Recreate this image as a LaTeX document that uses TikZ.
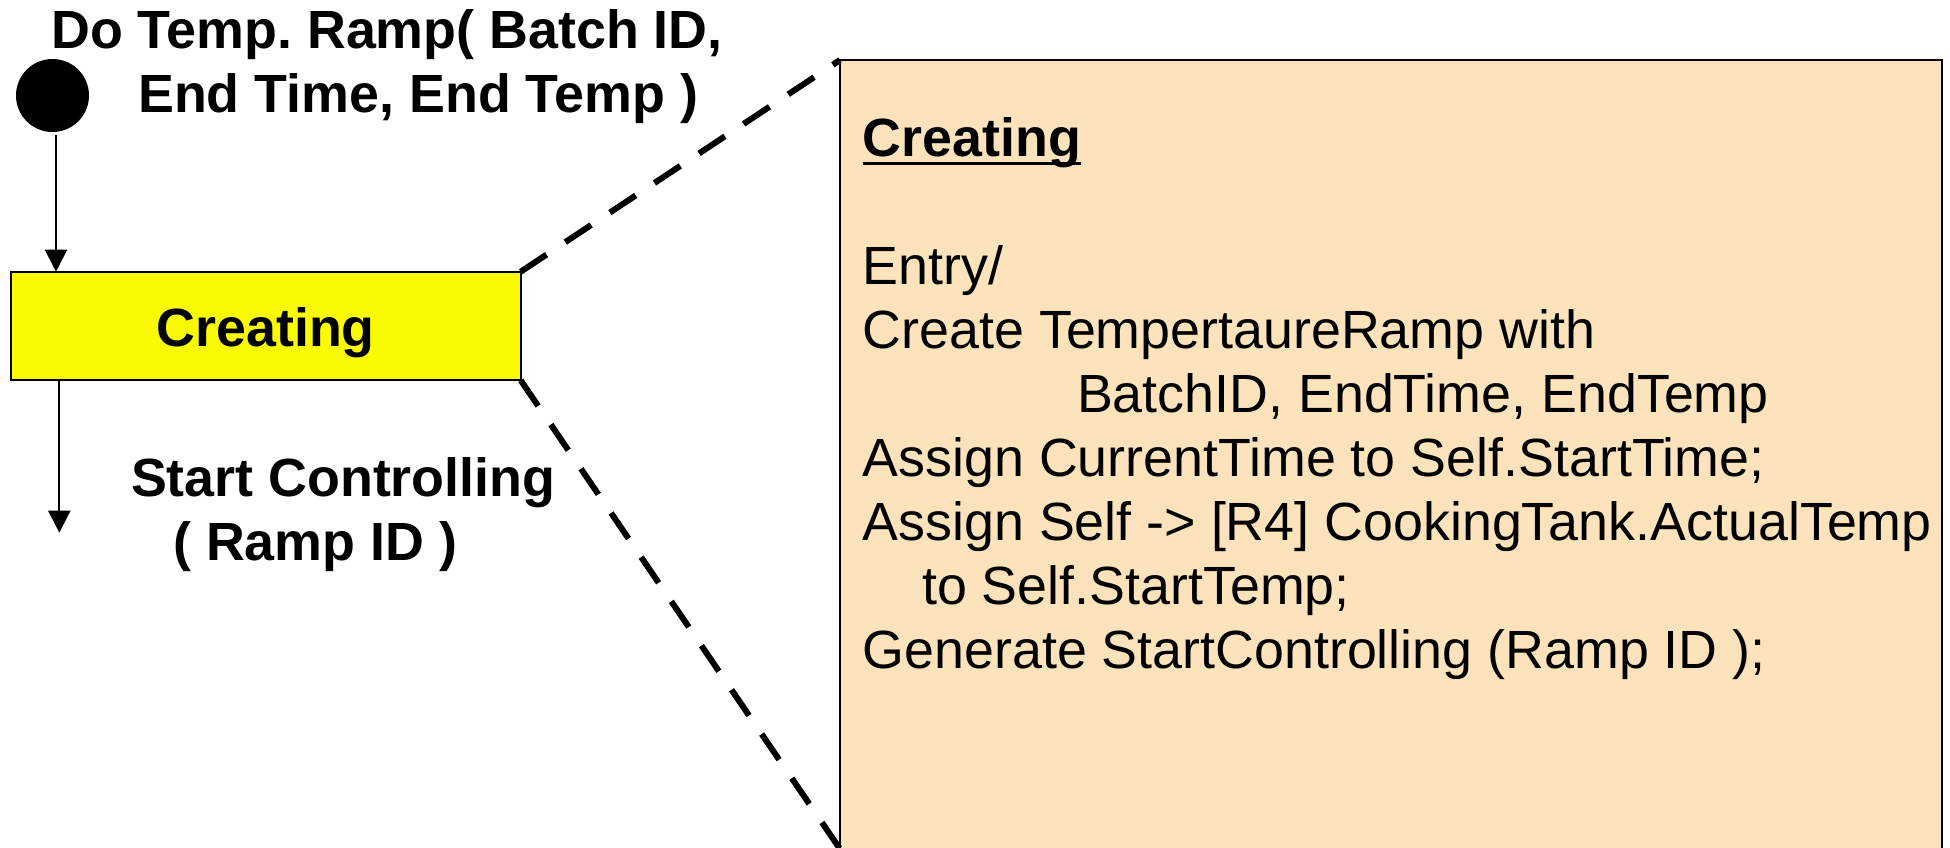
\documentclass[tikz,border=0pt]{standalone}
\usepackage{fontspec}
\setmainfont{Liberation Sans}
\usetikzlibrary{arrows.meta}

\definecolor{stateyellow}{RGB}{250,250,0}
\definecolor{notefill}{RGB}{252,227,188}

% large slide-style type: 53.8pt on a 64pt line pitch, no extra space after periods
\newcommand{\slidefont}{\fontsize{53.8pt}{64pt}\selectfont\frenchspacing}
% heading with an underline set at a fixed depth below the baseline
\newcommand{\headrule}[1]{\setbox0\hbox{#1}\rlap{\rule[-9pt]{\wd0}{3.2pt}}\box0}

\begin{document}
\begin{tikzpicture}[x=1pt,y=-1pt,
  initialdot/.style={circle, fill=black, draw=none, minimum size=73pt, inner sep=0pt},
  statebox/.style={rectangle, draw=black, line width=1.7pt, fill=stateyellow,
    minimum width=510pt, minimum height=108.6pt, inner sep=0pt, outer sep=0pt,
    font=\slidefont\bfseries, text height=40pt, text depth=0pt},
  notebox/.style={rectangle, draw=black, line width=2pt, fill=notefill,
    minimum width=1102pt, minimum height=789pt, inner sep=0pt, outer sep=0pt},
  eventtext/.style={inner sep=0pt, font=\slidefont\bfseries},
  actiontext/.style={inner sep=0pt, font=\slidefont},
  flow/.style={line width=2pt, -{Triangle[length=22pt,width=22pt]}},
  zoomline/.style={line width=6pt, dash pattern=on 31pt off 22.5pt}]

\clip (0,0) rectangle (1950,847);

% initial pseudo-state and the Creating state
\node[initialdot] (init) at (52.5,95.5) {};
\node[statebox] (creating) at (265.7,326) {Creating};

% expanded view of the state's entry actions
\node[notebox, anchor=north west] (detail) at (840,60) {};

% zoom-out lines from the state to its detail box
\draw[zoomline] (creating.north east) -- (detail.north west);
\draw[zoomline] (creating.south east) -- (detail.south west);

% creation event
\node[eventtext, anchor=base west] (trigger) at (51,48.3)
  {\begin{tabular}[t]{@{}l@{}}Do Temp. Ramp( Batch ID,\\
   \hspace*{87pt}End Time, End Temp )\end{tabular}};

% outgoing event
\node[eventtext, anchor=base west] (event) at (130.8,496.7)
  {\begin{tabular}[t]{@{}l@{}}Start Controlling\\
   \hspace*{42.3pt}( Ramp ID )\end{tabular}};

% entry action listing
\node[actiontext, anchor=base west] (actions) at (862.5,156)
  {\begin{tabular}[t]{@{}l@{}}\headrule{\bfseries Creating}\\
   \\
   Entry/\\
   Create TempertaureRamp with\\
   \hspace*{214.3pt}BatchID, EndTime, EndTemp\\
   Assign CurrentTime to Self.StartTime;\\
   Assign Self -> {[R4]} CookingTank.ActualTemp\\
   \hspace*{59.5pt}to Self.StartTemp;\\
   Generate StartControlling (Ramp ID );\end{tabular}};

% transitions
\coordinate (exit) at (59.3,532.7);
\draw[flow] ([xshift=3.5pt,yshift=-2.5pt]init.south) -- ([xshift=3.5pt]init.south |- creating.north);
\draw[flow] (exit |- creating.south) -- (exit);

\end{tikzpicture}
\end{document}
